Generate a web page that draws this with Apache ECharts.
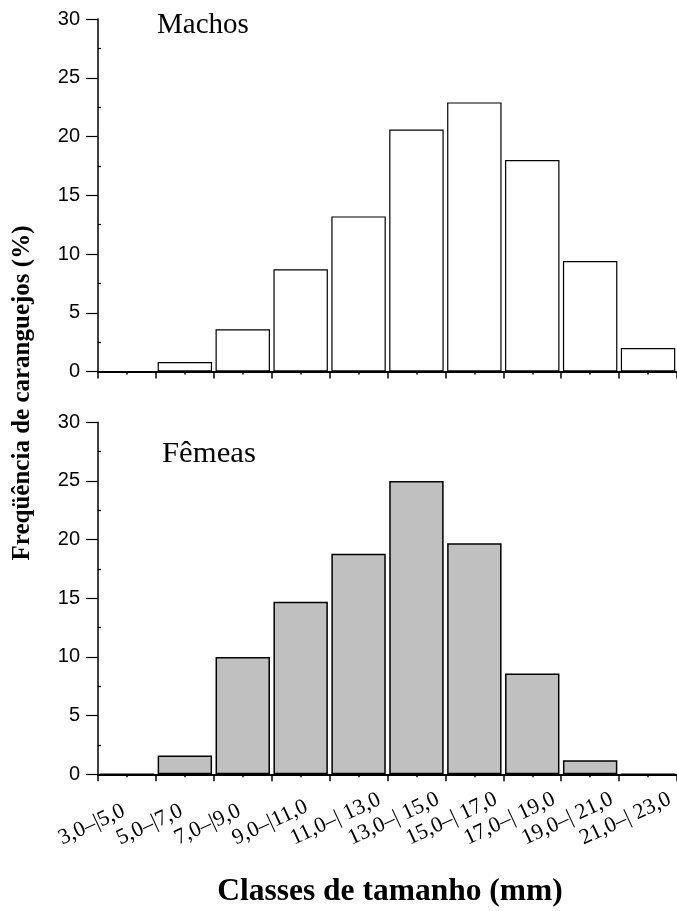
<!DOCTYPE html>
<html>
<head>
<meta charset="utf-8">
<script src="https://cdn.jsdelivr.net/npm/echarts@6/dist/echarts.min.js"></script>
<style>html,body{margin:0;padding:0;background:#fff}#c{width:677px;height:911px}</style>
</head>
<body>
<div id="c"></div>
<script>
var categories = ['3,0–|5,0','5,0–|7,0','7,0–|9,0','9,0–|11,0','11,0–| 13,0','13,0–| 15,0','15,0–| 17,0','17,0–| 19,0','19,0–| 21,0','21,0–| 23,0'];
var machos = [0, 0.8, 3.6, 8.7, 13.2, 20.6, 22.9, 18.0, 9.4, 2.0];
var femeas = [0, 1.6, 10.0, 14.7, 18.8, 25.0, 19.7, 8.6, 1.2, 0];
var yMin = 0, yMax = 30, yInterval = 5;

var chart = echarts.init(document.getElementById('c'), null, {renderer:'canvas'});
function catAxis(g, showLabel){
  return {type:'category', gridIndex:g, data:categories, position:'bottom',
    axisLine:{onZero:false, lineStyle:{color:'#000', width:2}},
    axisTick:{show:true, length:7, lineStyle:{color:'#000', width:1.5}},
    axisLabel:{show:showLabel, interval:0, rotate:25, margin:34, color:'#000',
      fontFamily:'Liberation Serif', fontSize:22,
      formatter:function(v){ return '{a|' + v + '}'; },
      rich:{a:{width:74, align:'left', fontFamily:'Liberation Serif', fontSize:22, color:'#000'}}},
    splitLine:{show:false}};
}
function minorAxis(g){
  return {type:'value', gridIndex:g, min:0, max:10, interval:1, position:'bottom',
    axisLine:{show:false, onZero:false}, axisLabel:{show:false}, splitLine:{show:false},
    axisTick:{show:false},
    minorTick:{show:true, splitNumber:2, length:3, lineStyle:{color:'#000', width:1.5}}};
}
function valAxis(g){
  return {type:'value', gridIndex:g, min:yMin, max:yMax, interval:yInterval,
    axisLine:{show:true, lineStyle:{color:'#000', width:1.5}},
    axisTick:{show:true, length:12, lineStyle:{color:'#000', width:1.2}},
    minorTick:{show:true, splitNumber:2, length:-3, lineStyle:{color:'#000', width:1.2}},
    axisLabel:{margin:18, color:'#000', fontFamily:'Liberation Sans', fontSize:20},
    splitLine:{show:false}};
}
chart.setOption({
  animation:false,
  grid:[{left:98, top:19, width:582, height:352.5},{left:98, top:422.3, width:582, height:352}],
  xAxis:[catAxis(0,false), minorAxis(0), catAxis(1,true), minorAxis(1)],
  yAxis:[valAxis(0), valAxis(1)],
  series:[
    {type:'bar', xAxisIndex:0, yAxisIndex:0, data:machos, barCategoryGap:'6%',
      itemStyle:{color:'#fff', borderColor:'#000', borderWidth:1.2}},
    {type:'bar', xAxisIndex:2, yAxisIndex:1, data:femeas, barCategoryGap:'6%',
      itemStyle:{color:'#c0c0c0', borderColor:'#000', borderWidth:1.5}}
  ],
  graphic:[
    {type:'text', x:157, y:25, style:{text:'Machos', fill:'#000', font:'29px "Liberation Serif"', verticalAlign:'middle'}},
    {type:'text', x:162, y:454, scaleX:1.06, style:{text:'Fêmeas', fill:'#000', font:'29px "Liberation Serif"', verticalAlign:'middle'}},
    {type:'text', x:23, y:393, rotation:Math.PI/2, style:{text:'Freqüência de caranguejos (%)', fill:'#000', font:'bold 25px "Liberation Serif"', align:'center', verticalAlign:'middle'}},
    {type:'text', x:390, y:892, style:{text:'Classes de tamanho (mm)', fill:'#000', font:'bold 31.5px "Liberation Serif"', align:'center', verticalAlign:'middle'}}
  ]
});
</script>
</body>
</html>
